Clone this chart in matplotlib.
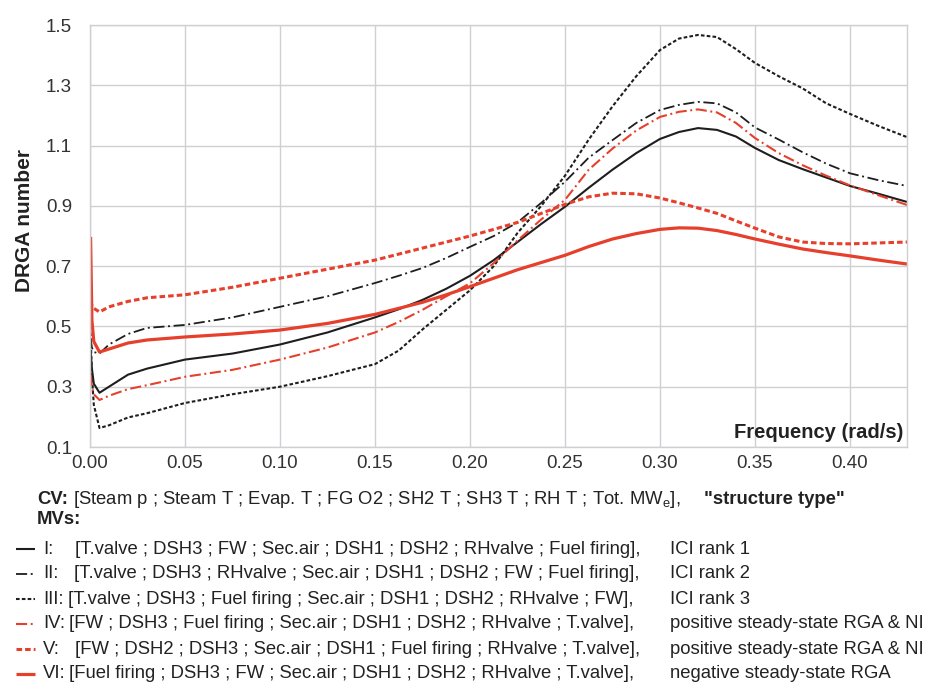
import matplotlib
matplotlib.use("Agg")
import matplotlib.pyplot as plt
from matplotlib.lines import Line2D

plt.rcParams["font.family"] = ["Liberation Sans", "DejaVu Sans"]
plt.rcParams["lines.scale_dashes"] = False
plt.rcParams["mathtext.fontset"] = "custom"
plt.rcParams["mathtext.rm"] = "Liberation Sans"

# frequency grid (rad/s) and DRGA numbers
freq = [0.0003, 0.001, 0.002, 0.005, 0.01, 0.02, 0.03, 0.05, 0.075, 0.10,
        0.125, 0.15, 0.1625, 0.175, 0.1875, 0.20, 0.2125, 0.225, 0.2375, 0.25,
        0.2625, 0.275, 0.2875, 0.30, 0.31, 0.32, 0.33, 0.34, 0.35, 0.3625,
        0.375, 0.3875, 0.40, 0.415, 0.43]

drga_I = [0.42, 0.36, 0.31, 0.28, 0.30, 0.34, 0.36, 0.39, 0.41, 0.44,
          0.48, 0.53, 0.557, 0.588, 0.625, 0.668, 0.72, 0.78, 0.84, 0.897,
          0.96, 1.02, 1.075, 1.122, 1.145, 1.158, 1.152, 1.13, 1.092, 1.052,
          1.022, 0.994, 0.966, 0.94, 0.913]
drga_II = [0.46, 0.43, 0.415, 0.41, 0.44, 0.475, 0.495, 0.505, 0.53, 0.565,
           0.60, 0.644, 0.668, 0.694, 0.727, 0.764, 0.80, 0.845, 0.91, 0.98,
           1.06, 1.118, 1.175, 1.218, 1.235, 1.245, 1.24, 1.21, 1.16, 1.12,
           1.078, 1.04, 1.008, 0.985, 0.966]
drga_III = [0.48, 0.34, 0.24, 0.163, 0.172, 0.198, 0.212, 0.246, 0.275, 0.30,
            0.335, 0.375, 0.42, 0.49, 0.555, 0.62, 0.70, 0.81, 0.90, 1.0,
            1.12, 1.23, 1.33, 1.417, 1.455, 1.467, 1.46, 1.42, 1.374, 1.33,
            1.29, 1.24, 1.205, 1.165, 1.128]
drga_IV = [0.34, 0.30, 0.275, 0.256, 0.27, 0.292, 0.305, 0.333, 0.356, 0.39,
           0.43, 0.48, 0.515, 0.555, 0.60, 0.643, 0.71, 0.785, 0.855, 0.92,
           1.02, 1.09, 1.15, 1.195, 1.212, 1.22, 1.21, 1.175, 1.125, 1.075,
           1.035, 1.0, 0.968, 0.935, 0.903]
drga_V = [0.585, 0.57, 0.56, 0.548, 0.565, 0.583, 0.595, 0.605, 0.63, 0.66,
          0.69, 0.72, 0.74, 0.76, 0.78, 0.80, 0.822, 0.845, 0.875, 0.905,
          0.93, 0.942, 0.94, 0.926, 0.91, 0.893, 0.875, 0.85, 0.826, 0.797,
          0.78, 0.775, 0.774, 0.777, 0.78]
drga_VI = [0.797, 0.52, 0.45, 0.415, 0.425, 0.445, 0.455, 0.465, 0.475, 0.488,
           0.51, 0.54, 0.56, 0.58, 0.605, 0.632, 0.66, 0.688, 0.712, 0.736,
           0.765, 0.79, 0.808, 0.822, 0.827, 0.826, 0.818, 0.805, 0.79, 0.773,
           0.757, 0.745, 0.734, 0.72, 0.707]

numerals = ["I:", "II:", "III:", "IV:", "V:", "VI:"]
mv_pairings = [
    "[T.valve ; DSH3 ; FW ; Sec.air ; DSH1 ; DSH2 ; RHvalve ; Fuel firing],",
    "[T.valve ; DSH3 ; RHvalve ; Sec.air ; DSH1 ; DSH2 ; FW ; Fuel firing],",
    "[T.valve ; DSH3 ; Fuel firing ; Sec.air ; DSH1 ; DSH2 ; RHvalve ; FW],",
    "[FW ; DSH3 ; Fuel firing ; Sec.air ; DSH1 ; DSH2 ; RHvalve ; T.valve],",
    "[FW ; DSH2 ; DSH3 ; Sec.air ; DSH1 ; Fuel firing ; RHvalve ; T.valve],",
    "[Fuel firing ; DSH3 ; FW ; Sec.air ; DSH1 ; DSH2 ; RHvalve ; T.valve],",
]
structure_types = ["ICI rank 1", "ICI rank 2", "ICI rank 3",
                   "positive steady-state RGA & NI",
                   "positive steady-state RGA & NI",
                   "negative steady-state RGA"]

BLACK = "#1e1e1e"
RED = "#e6402c"
TXT = "#222222"
series = [drga_I, drga_II, drga_III, drga_IV, drga_V, drga_VI]
styles = [
    dict(color=BLACK, lw=1.5, ls="-"),
    dict(color=BLACK, lw=1.3, dashes=(8, 2.6, 1.4, 2.6)),
    dict(color=BLACK, lw=1.5, dashes=(2.6, 1.6)),
    dict(color=RED, lw=1.5, dashes=(8, 2.6, 1.4, 2.6)),
    dict(color=RED, lw=2.2, dashes=(4, 2.2)),
    dict(color=RED, lw=2.3, ls="-"),
]

W, H = 928, 684
fig = plt.figure(figsize=(W / 100, H / 100), dpi=100)
ax = fig.add_axes([90 / W, 1 - 447 / H, (907 - 90) / W, (447 - 25) / H])

for vals, st in zip(series, styles):
    ax.plot(freq, vals, solid_capstyle="butt", **st)

ax.set_xlim(0, 0.43)
ax.set_ylim(0.1, 1.5)
ax.set_xticks([0.0, 0.05, 0.10, 0.15, 0.20, 0.25, 0.30, 0.35, 0.40])
ax.set_xticklabels(["0.00", "0.05", "0.10", "0.15", "0.20", "0.25", "0.30", "0.35", "0.40"])
ax.set_yticks([0.1, 0.3, 0.5, 0.7, 0.9, 1.1, 1.3, 1.5])
ax.set_yticklabels(["0.1", "0.3", "0.5", "0.7", "0.9", "1.1", "1.3", "1.5"])
ax.tick_params(length=0, labelsize=13.5, labelcolor="#333333")
ax.tick_params(axis="y", pad=13)
ax.tick_params(axis="x", pad=6)
ax.grid(True, color="#cfd0d4", lw=1.0)
ax.set_axisbelow(True)
for sp in ax.spines.values():
    sp.set_color("#cfd0d4")
    sp.set_linewidth(1.0)

ax.text(0.996, 0.012, "Frequency (rad/s)", transform=ax.transAxes, ha="right",
        va="bottom", fontsize=14.5, fontweight="bold", color=TXT)
fig.text(25 / W, 1 - 220 / H, "DRGA number", rotation=90, ha="center", va="center",
         fontsize=15, fontweight="bold", color=TXT)

# legend block underneath the plot
fs = 13.3
fig.text(37 / W, 1 - 500 / H, "CV:", fontsize=fs, fontweight="bold", va="center", color=TXT)
fig.text(73 / W, 1 - 500 / H,
         r"[Steam p ; Steam T ; Evap. T ; FG O2 ; SH2 T ; SH3 T ; RH T ; Tot. MW$_{\mathregular{e}}$],",
         fontsize=fs, va="center", color=TXT)
fig.text(704 / W, 1 - 500 / H, '"structure type"', fontsize=fs, fontweight="bold",
         va="center", color=TXT)
fig.text(37 / W, 1 - 519 / H, "MVs:", fontsize=fs, fontweight="bold", va="center", color=TXT)

row_y = [549, 574, 599, 624, 649, 674]
bracket_x = [75, 74, 68, 69, 75, 69]
for num, mv, kind, st, y, bx in zip(numerals, mv_pairings, structure_types, styles,
                                    row_y, bracket_x):
    yf = 1 - y / H
    fig.add_artist(Line2D([16 / W, 35 / W], [yf, yf], transform=fig.transFigure,
                          solid_capstyle="butt", **st))
    fig.text(43 / W, yf, num, fontsize=fs, va="center", color=TXT)
    fig.text(bx / W, yf, mv, fontsize=fs, va="center", color=TXT)
    fig.text(670 / W, yf, kind, fontsize=fs, va="center", color=TXT)

fig.savefig("out.png", dpi=100)
